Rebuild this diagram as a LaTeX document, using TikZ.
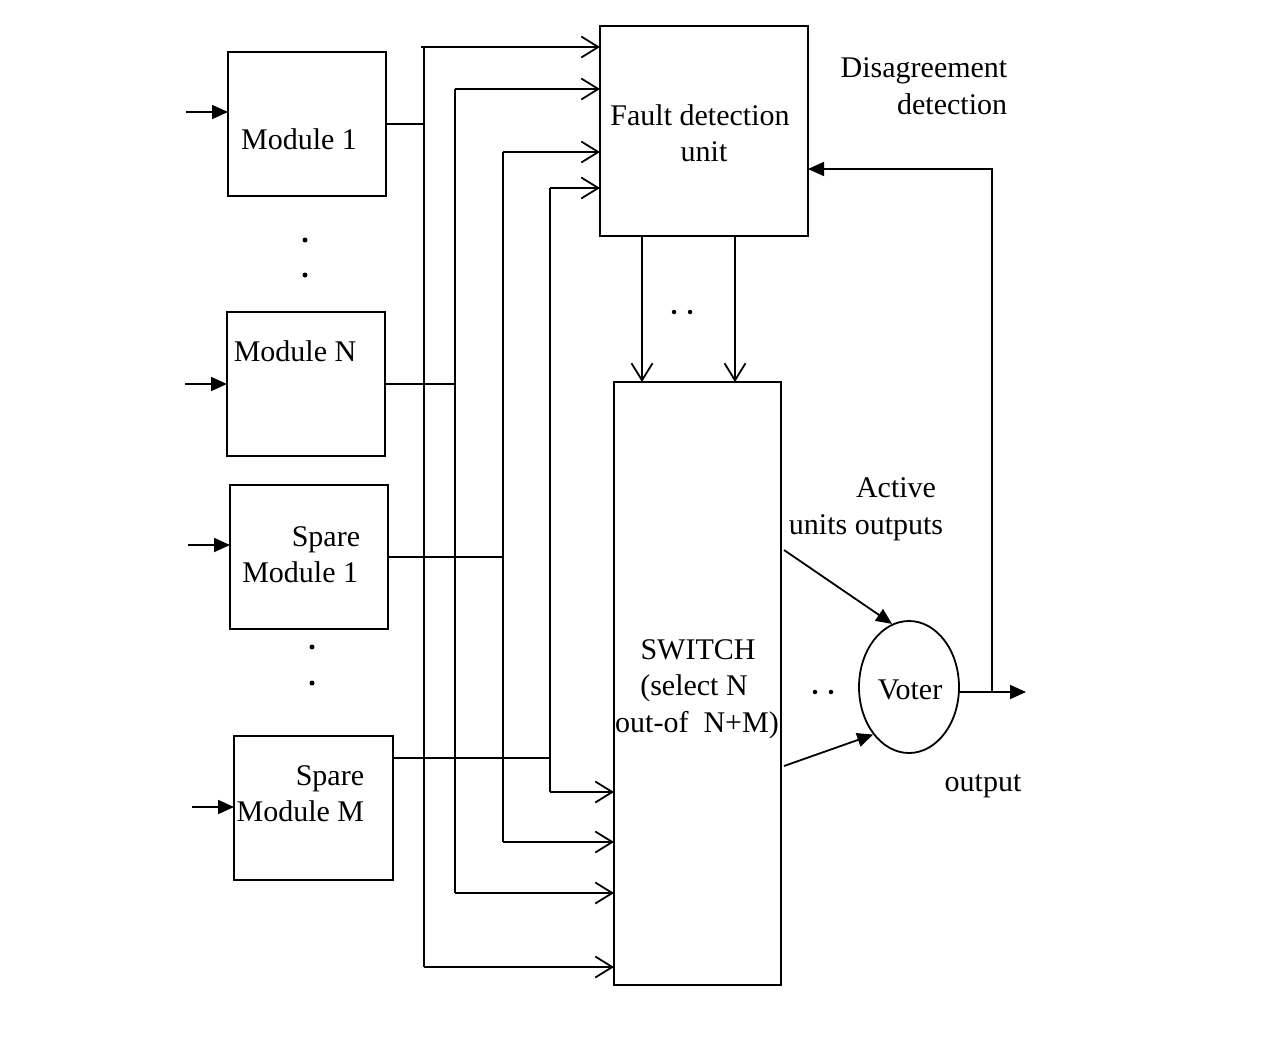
\documentclass[tikz,border=0pt]{standalone}
\usepackage{fontspec}
\setmainfont{Liberation Serif}
\usetikzlibrary{arrows.meta,shapes.geometric}
\begin{document}
\begin{tikzpicture}[x=1pt,y=-1pt,line width=1.8pt,
  every node/.style={font=\fontsize{30}{36}\selectfont},
  box/.style={draw,rectangle,inner sep=0pt,outer sep=0pt},
  txt/.style={anchor=base,inner sep=0pt},
  rtxt/.style={anchor=base east,inner sep=0pt},
  oarr/.style={-{Straight Barb[length=17pt,width=21pt]}},
  farr/.style={-{Triangle[length=16pt,width=14pt]}},
  dotmark/.style={circle,fill,inner sep=0pt,minimum size=5pt}]
\useasboundingbox (0,0) rectangle (1274,1037);

% modules
\node[box,minimum width=158pt,minimum height=144pt] (m1) at (307,124) {};
\node[box,minimum width=158pt,minimum height=144pt] (mn) at (306,384) {};
\node[box,minimum width=158pt,minimum height=144pt] (s1) at (309,557) {};
\node[box,minimum width=159pt,minimum height=144pt] (sm) at (313.5,808) {};
\node[txt] (m1t) at (299,149) {Module 1};
\node[txt] (mnt) at (295,361) {Module N};
\node[rtxt] (s1a) at (361,546) {Spare};
\node[rtxt] (s1b) at (359,582) {Module 1};
\node[rtxt] (sma) at (365,785) {Spare};
\node[rtxt] (smb) at (365,821) {Module M};

% dots between modules
\node[dotmark] (d1) at (305,240) {};
\node[dotmark] (d2) at (305,275) {};
\node[dotmark] (d3) at (312,647) {};
\node[dotmark] (d4) at (312,683) {};

% fault detection unit and switch
\node[box,minimum width=208pt,minimum height=210pt] (fdu) at (704,131) {};
\node[txt] (fdua) at (700,125) {Fault detection};
\node[txt] (fdub) at (704,161) {unit};
\node[box,minimum width=167pt,minimum height=603pt] (sw) at (697.5,683.5) {};
\node[txt] (swa) at (698,659) {SWITCH};
\node[txt] (swb) at (694,695) {(select N};
\node[txt] (swc) at (697,732) {out-of~~N+M)};

% voter
\node[draw,ellipse,minimum width=100pt,minimum height=132pt,inner sep=0pt] (voter) at (909,687) {};
\node[txt] (vt) at (910,699) {Voter};

% labels
\node[txt] (la) at (924,77) {Disagreement};
\node[rtxt] (lb) at (1008,114) {detection};
\node[txt] (lc) at (896,497) {Active};
\node[txt] (ld) at (866,534) {units outputs};
\node[txt] (le) at (983,791) {output};
\node[dotmark,minimum size=4.5pt] (e1) at (674,312) {};
\node[dotmark,minimum size=4.5pt] (e2) at (690,312) {};
\node[dotmark,minimum size=4.5pt] (e3) at (815,692) {};
\node[dotmark,minimum size=4.5pt] (e4) at (831,692) {};

% inputs
\coordinate (i1) at (186,112);
\coordinate (i2) at (185,384);
\coordinate (i3) at (188,545);
\coordinate (i4) at (192,807);
\draw[farr] (i1) -- (i1 -| m1.west);
\draw[farr] (i2) -- (i2 -| mn.west);
\draw[farr] (i3) -- (i3 -| s1.west);
\draw[farr] (i4) -- (i4 -| sm.west);

% buses
\coordinate (b1t) at (424,47);  \coordinate (b1b) at (424,967);
\coordinate (b2t) at (455,89);  \coordinate (b2b) at (455,893);
\coordinate (b3t) at (503,152); \coordinate (b3b) at (503,842);
\coordinate (b4t) at (550,188); \coordinate (b4b) at (550,792);
\coordinate (b0) at (421,47);

\draw (m1.east) -- (m1.east -| b1t);
\draw (mn.east) -- (mn.east -| b2t);
\draw (s1.east) -- (s1.east -| b3t);
\draw ([yshift=50pt]sm.east) -- ([yshift=50pt]sm.east -| b4t);

\draw (b1t) -- (b1b);
\draw (b2t) -- (b2b);
\draw (b3t) -- (b3b);
\draw (b4t) -- (b4b);

\draw[oarr] (b0) -- (b0 -| fdu.west);
\draw[oarr] (b2t) -- (b2t -| fdu.west);
\draw[oarr] (b3t) -- (b3t -| fdu.west);
\draw[oarr] (b4t) -- (b4t -| fdu.west);
\draw[oarr] (b4b) -- (b4b -| sw.west);
\draw[oarr] (b3b) -- (b3b -| sw.west);
\draw[oarr] (b2b) -- (b2b -| sw.west);
\draw[oarr] (b1b) -- (b1b -| sw.west);

% FDU to switch
\coordinate (c1) at (642,0);
\coordinate (c2) at (735,0);
\draw[oarr] (fdu.south -| c1) -- (sw.north -| c1);
\draw[oarr] (fdu.south -| c2) -- (sw.north -| c2);

% switch to voter
\coordinate (a1) at (784,550);
\coordinate (a2) at (784,766);
\draw[farr] (a1) -- (voter.105);
\draw[farr] (a2) -- (voter.233);

% output and feedback
\coordinate (vo) at (959,692);
\coordinate (out) at (1026,692);
\coordinate (fb) at (992,692);
\coordinate (fbt) at (992,169);
\draw[farr] (vo) -- (out);
\draw[farr] (fb) -- (fbt) -- (fbt -| fdu.east);
\end{tikzpicture}
\end{document}
